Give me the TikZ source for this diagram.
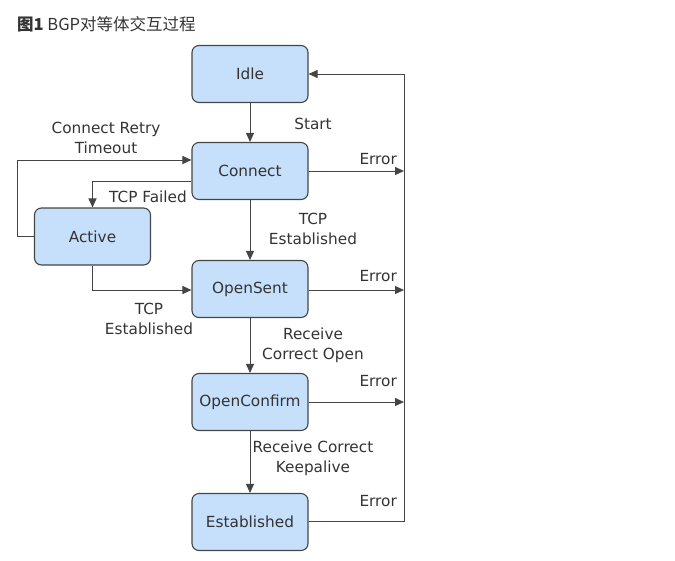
\documentclass[tikz,border=0pt]{standalone}
\usepackage{fontspec}
\setmainfont{DejaVu Sans}
\newfontfamily\cjk{Noto Sans CJK SC}
\usetikzlibrary{arrows.meta}
\definecolor{boxfill}{HTML}{C6E0FC}
\definecolor{boxline}{HTML}{454545}
\definecolor{txt}{HTML}{333333}
\tikzset{
  state/.style={draw=boxline, fill=boxfill, line width=1.1pt, rounded corners=7pt,
    minimum width=116pt, minimum height=57pt, inner sep=0pt, font=\fontsize{15.3}{17}\selectfont, text=txt},
  conn/.style={draw=boxline, line width=1pt, -{Triangle[length=9pt,width=8pt]}},
  lbl/.style={font=\fontsize{15.3}{20}\selectfont, text=txt, align=center, inner sep=0pt}
}
\begin{document}
\begin{tikzpicture}[x=1pt,y=-1pt]
\useasboundingbox (0,0) rectangle (675,560);
\node[anchor=west, inner sep=0pt, text=txt, font=\fontsize{16.5}{18}\selectfont] (title) at (17,24) {\cjk\textbf{图1} BGP对等体交互过程};
\node[state] (idle) at (250,74) {Idle};
\node[state] (connect) at (250,171) {Connect};
\node[state] (active) at (92.5,236.5) {Active};
\node[state] (opensent) at (250,289) {OpenSent};
\node[state] (openconfirm) at (250,402) {OpenConfirm};
\node[state] (established) at (250,522) {Established};

\coordinate (rtop) at (404,74);
\coordinate (r1) at (404,171);
\coordinate (r2) at (404,290);
\coordinate (r3) at (404,402);
\coordinate (rbot) at (404,521);

\draw[conn] (idle) -- (connect);
\draw[conn] (connect) -- (opensent);
\draw[conn] (opensent) -- (openconfirm);
\draw[conn] (openconfirm) -- (established);

\draw[conn] (established.east |- rbot) -- (rbot) -- (rtop) -- (idle.east);
\draw[conn] (connect.east) -- (r1);
\draw[conn] (opensent.east |- r2) -- (r2);
\draw[conn] (openconfirm.east) -- (r3);

\draw[conn] (active.west) -- (17,236.5) -- (17,160) -- (connect.west |- 0,160);
\draw[conn] (connect.west |- 0,181) -- (active.north |- 0,181) -- (active.north);
\draw[conn] (active.south) -- (active.south |- 0,290) -- (opensent.west |- 0,290);

\node[lbl] (l1) at (313,124) {Start};
\node[lbl] (l2) at (313,229) {TCP\\Established};
\node[lbl] (l3) at (313,345) {Receive\\Correct Open};
\node[lbl] (l4) at (313,458) {Receive Correct\\Keepalive};
\node[lbl] (l5) at (106,138) {Connect Retry\\Timeout};
\node[lbl] (l6) at (148,197) {TCP Failed};
\node[lbl] (l7) at (149,319) {TCP\\Established};
\node[lbl, anchor=east] (e1) at (397,159) {Error};
\node[lbl, anchor=east] (e2) at (397,276) {Error};
\node[lbl, anchor=east] (e3) at (397,381) {Error};
\node[lbl, anchor=east] (e4) at (397,501) {Error};
\end{tikzpicture}
\end{document}
